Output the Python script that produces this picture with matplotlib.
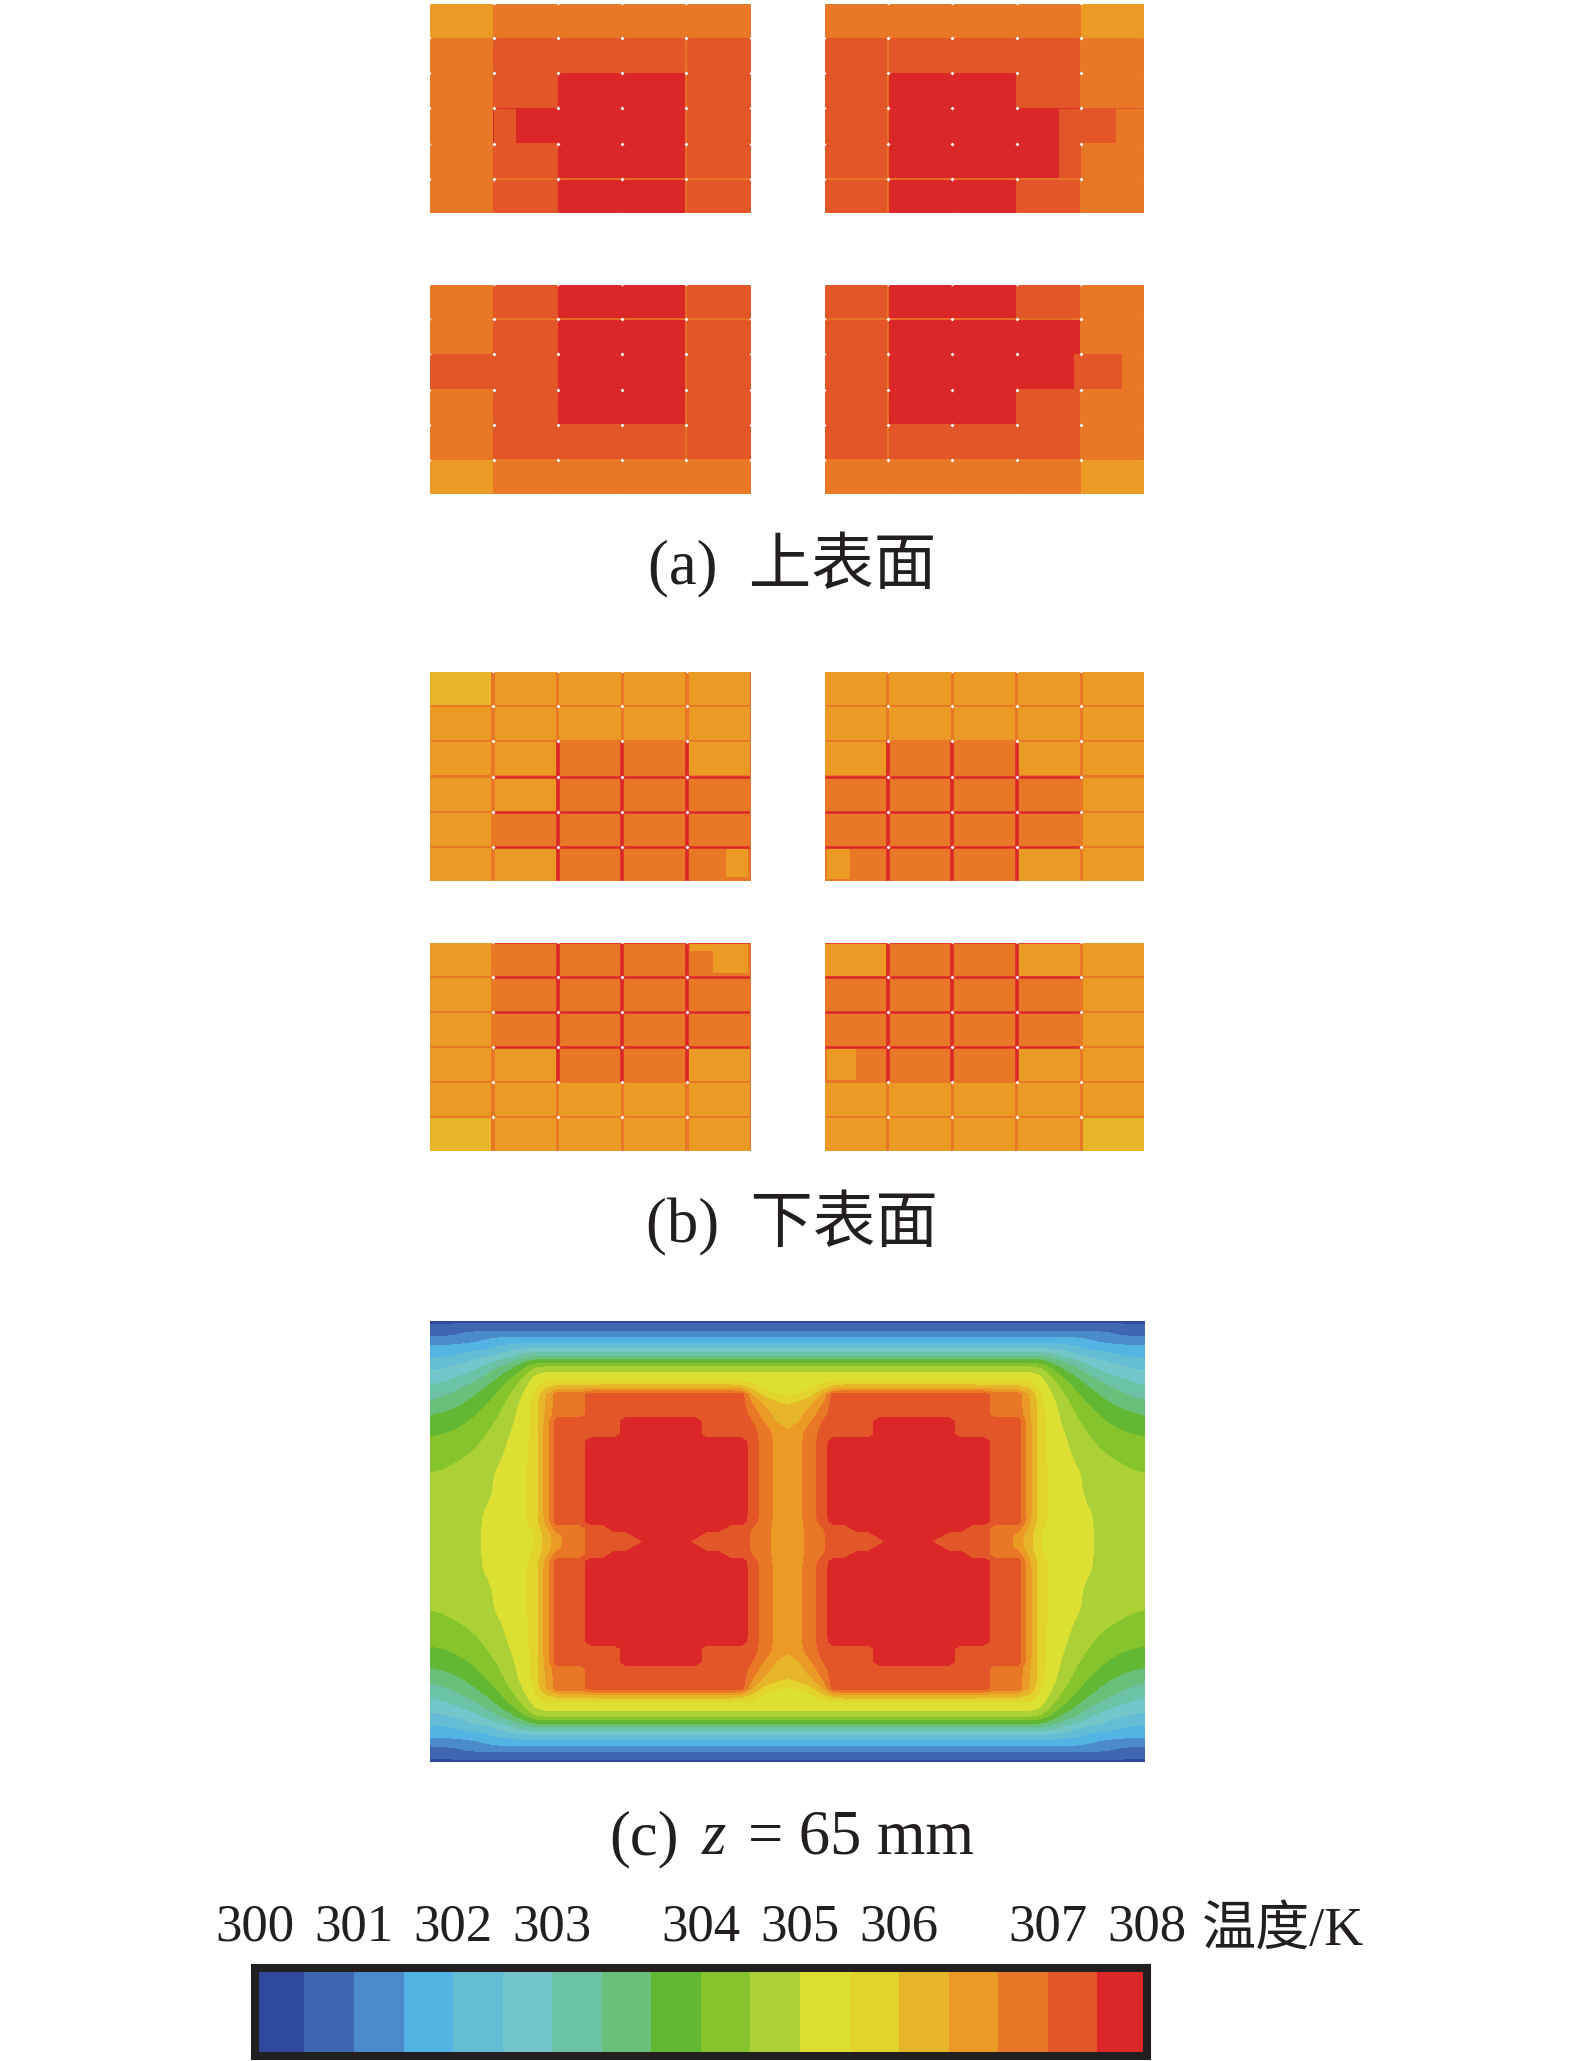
import numpy as np
import matplotlib
matplotlib.use('Agg')
import matplotlib.pyplot as plt
from matplotlib.colors import ListedColormap

# temperature bands of the colour bar
band_colors = ['#2F4A9C', '#3F66B0', '#4C8BC9', '#52B4E2', '#63BDD4', '#74C6CA',
               '#6BC2A6', '#69C07B', '#62B833', '#86C42E', '#ABD136', '#DBE033',
               '#E2D42C', '#E6B628', '#EC9A26', '#E97826', '#E25628', '#DC2729']
tick_labels = ['300', '301', '302', '303', '304', '305', '306', '307', '308']
tick_bands = [0, 2, 4, 6, 9, 11, 13, 16, 18]

# (a) upper surface, band index of each module: rows x columns
a_tl = [[14, 15, 15, 15, 15], [15, 16, 16, 16, 16], [15, 16, 17, 17, 16],
        [15, 17, 17, 17, 16], [15, 16, 17, 17, 16], [15, 16, 17, 17, 16]]
a_tr = [[15, 15, 15, 15, 14], [16, 16, 16, 16, 15], [16, 17, 17, 16, 15],
        [16, 17, 17, 17, 16], [16, 17, 17, 17, 15], [16, 17, 17, 16, 15]]
a_bl = [[15, 16, 17, 17, 16], [15, 16, 17, 17, 16], [16, 16, 17, 17, 16],
        [15, 16, 17, 17, 16], [15, 16, 16, 16, 16], [14, 15, 15, 15, 15]]
a_br = [[16, 17, 17, 16, 15], [16, 17, 17, 17, 15], [16, 17, 17, 17, 16],
        [16, 17, 17, 16, 15], [16, 16, 16, 16, 15], [15, 15, 15, 15, 14]]

# (b) lower surface
b_tl = [[13, 14, 14, 14, 14], [14, 14, 14, 14, 14], [14, 14, 15, 15, 14],
        [14, 14, 15, 15, 15], [14, 15, 15, 15, 15], [14, 14, 15, 15, 15]]
b_tr = [[14, 14, 14, 14, 14], [14, 14, 14, 14, 14], [14, 15, 15, 14, 14],
        [15, 15, 15, 15, 14], [15, 15, 15, 15, 14], [15, 15, 15, 14, 14]]
b_bl = [[14, 15, 15, 15, 15], [14, 15, 15, 15, 15], [14, 15, 15, 15, 15],
        [14, 14, 15, 15, 14], [14, 14, 14, 14, 14], [13, 14, 14, 14, 14]]
b_br = [[14, 15, 15, 14, 14], [15, 15, 15, 15, 14], [15, 15, 15, 15, 14],
        [15, 15, 15, 14, 14], [14, 14, 14, 14, 14], [14, 14, 14, 14, 13]]

# parts of a module in another band: row, col, band, x0, x1, y0, y1
a_tl_parts = [(3, 1, 16, 0, .35, 0, 1)]
a_tr_parts = [(3, 3, 16, .67, 1, 0, 1), (4, 3, 16, .67, 1, 0, 1), (3, 4, 15, .55, 1, 0, 1)]
a_bl_parts = []
a_br_parts = [(2, 3, 16, .9, 1, 0, 1), (2, 4, 15, .65, 1, 0, 1)]
b_tl_parts = [(5, 4, 14, .6, .95, .05, .85)]
b_tr_parts = [(5, 0, 14, .05, .42, .05, .9)]
b_bl_parts = [(0, 4, 14, .05, .45, .05, .25), (0, 4, 14, .4, .95, .05, .9)]
b_br_parts = [(3, 0, 14, .05, .5, .05, .95)]

# seams between modules: line index, first and last module along the line
a_v_seams = {'l': [(4, 0, 6)], 'r': [(1, 0, 6)]}
a_h_seams = {'t': [(5, 0, 5)], 'b': [(1, 0, 5)]}
b_v_seams = {'tl': [(2, 2, 6), (3, 2, 6), (4, 2, 6), (5, 2, 6)],
             'tr': [(0, 2, 6), (1, 2, 6), (2, 2, 6), (3, 2, 6)],
             'bl': [(2, 0, 4), (3, 0, 4), (4, 0, 4), (5, 0, 4)],
             'br': [(0, 0, 4), (1, 0, 4), (2, 0, 4), (3, 0, 4)]}
b_h_seams = {'tl': [(3, 1, 5), (4, 1, 5), (5, 1, 5), (6, 1, 5)],
             'tr': [(3, 0, 4), (4, 0, 4), (5, 0, 4), (6, 0, 4)],
             'bl': [(0, 1, 5), (1, 1, 5), (2, 1, 5), (3, 1, 5)],
             'br': [(0, 0, 4), (1, 0, 4), (2, 0, 4), (3, 0, 4)]}

# gap colour between modules, by band of the module
a_gap = {14: 15, 15: 15, 16: 16, 17: 17}
b_gap = {13: 15, 14: 15, 15: 15}

# (c) z = 65 mm, top left quarter of the section, one letter per band (a=300 ... r=308)
section_rows = [
    "a" * 32,
    "b" * 32,
    "bbb" + "c" * 29,
    "ccccc" + "d" * 27,
    "dddddd" + "e" * 26,
    "dddeeeef" + "g" * 24,
    "eeeeffggh" + "i" * 23,
    "eefffghhi" + "k" * 23,
    "ffffgghij" + "l" * 23,
    "ffggghijk" + "l" * 23,
    "fgghhiijkl" + "n" * 18 + "mlll",
    "gghhhijjkl" + "oppp" + "q" * 14 + "nmll",
    "ghhhiijkll" + "oppp" + "q" * 14 + "onnm",
    "hhhiijjkll" + "oppp" + "q" * 14 + "pnnn",
    "hiiiijjkll" + "oppp" + "q" * 14 + "ponn",
    "iiiijjkkll" + "o" + "q" * 6 + "r" * 7 + "q" * 5 + "onn",
    "iiijjjkkll" + "o" + "q" * 6 + "r" * 7 + "q" * 5 + "pon",
    "iijjjjklll" + "o" + "q" * 6 + "r" * 7 + "q" * 5 + "poo",
    "jjjjjkklll" + "oqqq" + "r" * 14 + "qpoo",
    "jjjjjkklll" + "oqqq" + "r" * 14 + "qpoo",
    "jjjjkkklll" + "oqqq" + "r" * 14 + "qpoo",
    "jjjkkkklll" + "oqqq" + "r" * 14 + "qpoo",
    "jjkkkkllll" + "oqqq" + "r" * 14 + "qpoo",
    "jkkkkkllll" + "oqqq" + "r" * 14 + "qpoo",
    "kkkkkkllll" + "oqqq" + "r" * 14 + "qpoo",
    "kkkkkkllll" + "oqqq" + "r" * 14 + "qpoo",
    "kkkkkkllll" + "oqqq" + "r" * 14 + "qpoo",
    "kkkkkkllll" + "oqqq" + "r" * 14 + "qpoo",
    "kkkkklllll" + "oqqq" + "r" * 14 + "qpoo",
    "kkkkklllll" + "oqqq" + "r" * 14 + "qpoo",
    "kkkkklllll" + "oqqq" + "r" * 14 + "qpoo",
    "kkkkklllll" + "nppp" + "qq" + "r" * 10 + "qqppoo",
    "kkkkklllll" + "nopp" + "qqqq" + "r" * 6 + "qqqqppoo",
    "kkkkklllll" + "nopp" + "qqqqq" + "rrrr" + "qqqqqppoo",
]

W, H = 1575, 2061
cmap = ListedColormap(band_colors)
latin = ['Liberation Serif', 'Noto Sans CJK SC']


def px_axes(x0, y0, x1, y1):
    return fig.add_axes([x0 / W, 1 - y1 / H, (x1 - x0) / W, (y1 - y0) / H])


def draw_block(rect, cells, parts, gap, gx, gy, v_seams, h_seams, seam_band, v_lw, h_lw):
    ax = px_axes(*rect)
    cells = np.array(cells)
    nr, nc = cells.shape
    under = np.vectorize(gap.get)(cells)
    ax.imshow(under, cmap=cmap, vmin=0, vmax=17, extent=(0, nc, nr, 0),
              aspect='auto', interpolation='nearest')
    for r in range(nr):
        for c in range(nc):
            ax.bar(c + gx / 2, 1 - gy, 1 - gx, r + gy / 2, align='edge',
                   color=band_colors[cells[r, c]], linewidth=0)
    for r, c, band, x0, x1, y0, y1 in parts:
        ax.bar(c + x0, y1 - y0, x1 - x0, r + y0, align='edge',
               color=band_colors[band], linewidth=0)
    for i, a, b in v_seams:
        ax.vlines(i, a, b, color=band_colors[seam_band], linewidth=v_lw)
    for i, a, b in h_seams:
        ax.hlines(i, a, b, color=band_colors[seam_band], linewidth=h_lw)
    # small notches where four modules meet
    jx, jy = np.meshgrid(np.arange(nc + 1), np.arange(nr + 1))
    ax.scatter(jx.ravel(), jy.ravel(), marker='D', s=4, color='white', linewidth=0, zorder=5)
    ax.set_xlim(gx / 2, nc - gx / 2)
    ax.set_ylim(nr - gy / 2, gy / 2)
    ax.axis('off')


def soften(grid):
    pad = np.pad(grid, 1, mode='symmetric')
    return (pad[:-2, :-2] + 2 * pad[:-2, 1:-1] + pad[:-2, 2:]
            + 2 * pad[1:-1, :-2] + 4 * pad[1:-1, 1:-1] + 2 * pad[1:-1, 2:]
            + pad[2:, :-2] + 2 * pad[2:, 1:-1] + pad[2:, 2:]) / 16


fig = plt.figure(figsize=(W / 100, H / 100), dpi=100)

col_l = (430, 750)
col_r = (825, 1144)

draw_block((col_l[0], 4, col_l[1], 213), a_tl, a_tl_parts, a_gap, .02, .03,
           a_v_seams['l'], a_h_seams['t'], 15, 1.2, 1.2)
draw_block((col_r[0], 4, col_r[1], 213), a_tr, a_tr_parts, a_gap, .02, .03,
           a_v_seams['r'], a_h_seams['t'], 15, 1.2, 1.2)
draw_block((col_l[0], 285, col_l[1], 494), a_bl, a_bl_parts, a_gap, .02, .03,
           a_v_seams['l'], a_h_seams['b'], 15, 1.2, 1.2)
draw_block((col_r[0], 285, col_r[1], 494), a_br, a_br_parts, a_gap, .02, .03,
           a_v_seams['r'], a_h_seams['b'], 15, 1.2, 1.2)

draw_block((col_l[0], 672, col_l[1], 881), b_tl, b_tl_parts, b_gap, .05, .07,
           b_v_seams['tl'], b_h_seams['tl'], 17, 2.6, 1.8)
draw_block((col_r[0], 672, col_r[1], 881), b_tr, b_tr_parts, b_gap, .05, .07,
           b_v_seams['tr'], b_h_seams['tr'], 17, 2.6, 1.8)
draw_block((col_l[0], 943, col_l[1], 1151), b_bl, b_bl_parts, b_gap, .05, .07,
           b_v_seams['bl'], b_h_seams['bl'], 17, 2.6, 1.8)
draw_block((col_r[0], 943, col_r[1], 1151), b_br, b_br_parts, b_gap, .05, .07,
           b_v_seams['br'], b_h_seams['br'], 17, 2.6, 1.8)

# section (c): quarter mirrored to both sides
quarter = np.array([[ord(ch) - ord('a') for ch in row] for row in section_rows], dtype=float)

# the letters are whole bands, so take the steps out of the slanted isotherms
blocks = quarter >= 15
blocks[:, 28:] = False
side = np.zeros(quarter.shape, dtype=bool)
side[8:, :9] = True
soft = soften(quarter)
for _ in range(3):
    soft = np.where(side, soften(soft), soft)
quarter = np.where(blocks, quarter, soft)

top = np.hstack([quarter, quarter[:, -2::-1]])
field = np.vstack([top, top[-2::-1]])
ax_c = px_axes(430, 1321, 1145, 1762)
xs = np.linspace(0, 1, field.shape[1])
ys = np.linspace(0, 1, field.shape[0])
ax_c.contourf(xs, ys, field, levels=np.arange(-0.5, 18.5), cmap=cmap, vmin=-0.5, vmax=17.5,
              antialiased=False)
ax_c.invert_yaxis()
ax_c.axis('off')

# colour bar
ax_bar = px_axes(255, 1968, 1147, 2056)
ax_bar.imshow(np.arange(18)[None, :], cmap=cmap, vmin=0, vmax=17, extent=(0, 18, 1, 0),
              aspect='auto', interpolation='nearest')
ax_bar.set_yticks([])
ax_bar.xaxis.tick_top()
ax_bar.set_xticks(tick_bands)
ax_bar.set_xticklabels(tick_labels, family=latin, fontsize=38, color='#231F20')
ax_bar.tick_params(axis='x', length=0, pad=12)
for s in ax_bar.spines.values():
    s.set_linewidth(5.8)
    s.set_color('#231F20')

# captions
def cap(x, y, s, **kw):
    kw.setdefault('family', latin)
    kw.setdefault('fontsize', 45)
    fig.text(x / W, 1 - y / H, s, ha=kw.pop('ha', 'center'), va=kw.pop('va', 'baseline'),
             color='#231F20', **kw)


cap(792, 584, '(a)  上表面')
cap(792, 1242, '(b)  下表面')
cap(644, 1854, '(c)')
cap(702, 1854, 'z', style='italic', ha='left')
cap(748, 1854, '= 65 mm', ha='left')
cap(1283, 1945, '温度/K', fontsize=39)

fig.savefig('out.png', dpi=100)
